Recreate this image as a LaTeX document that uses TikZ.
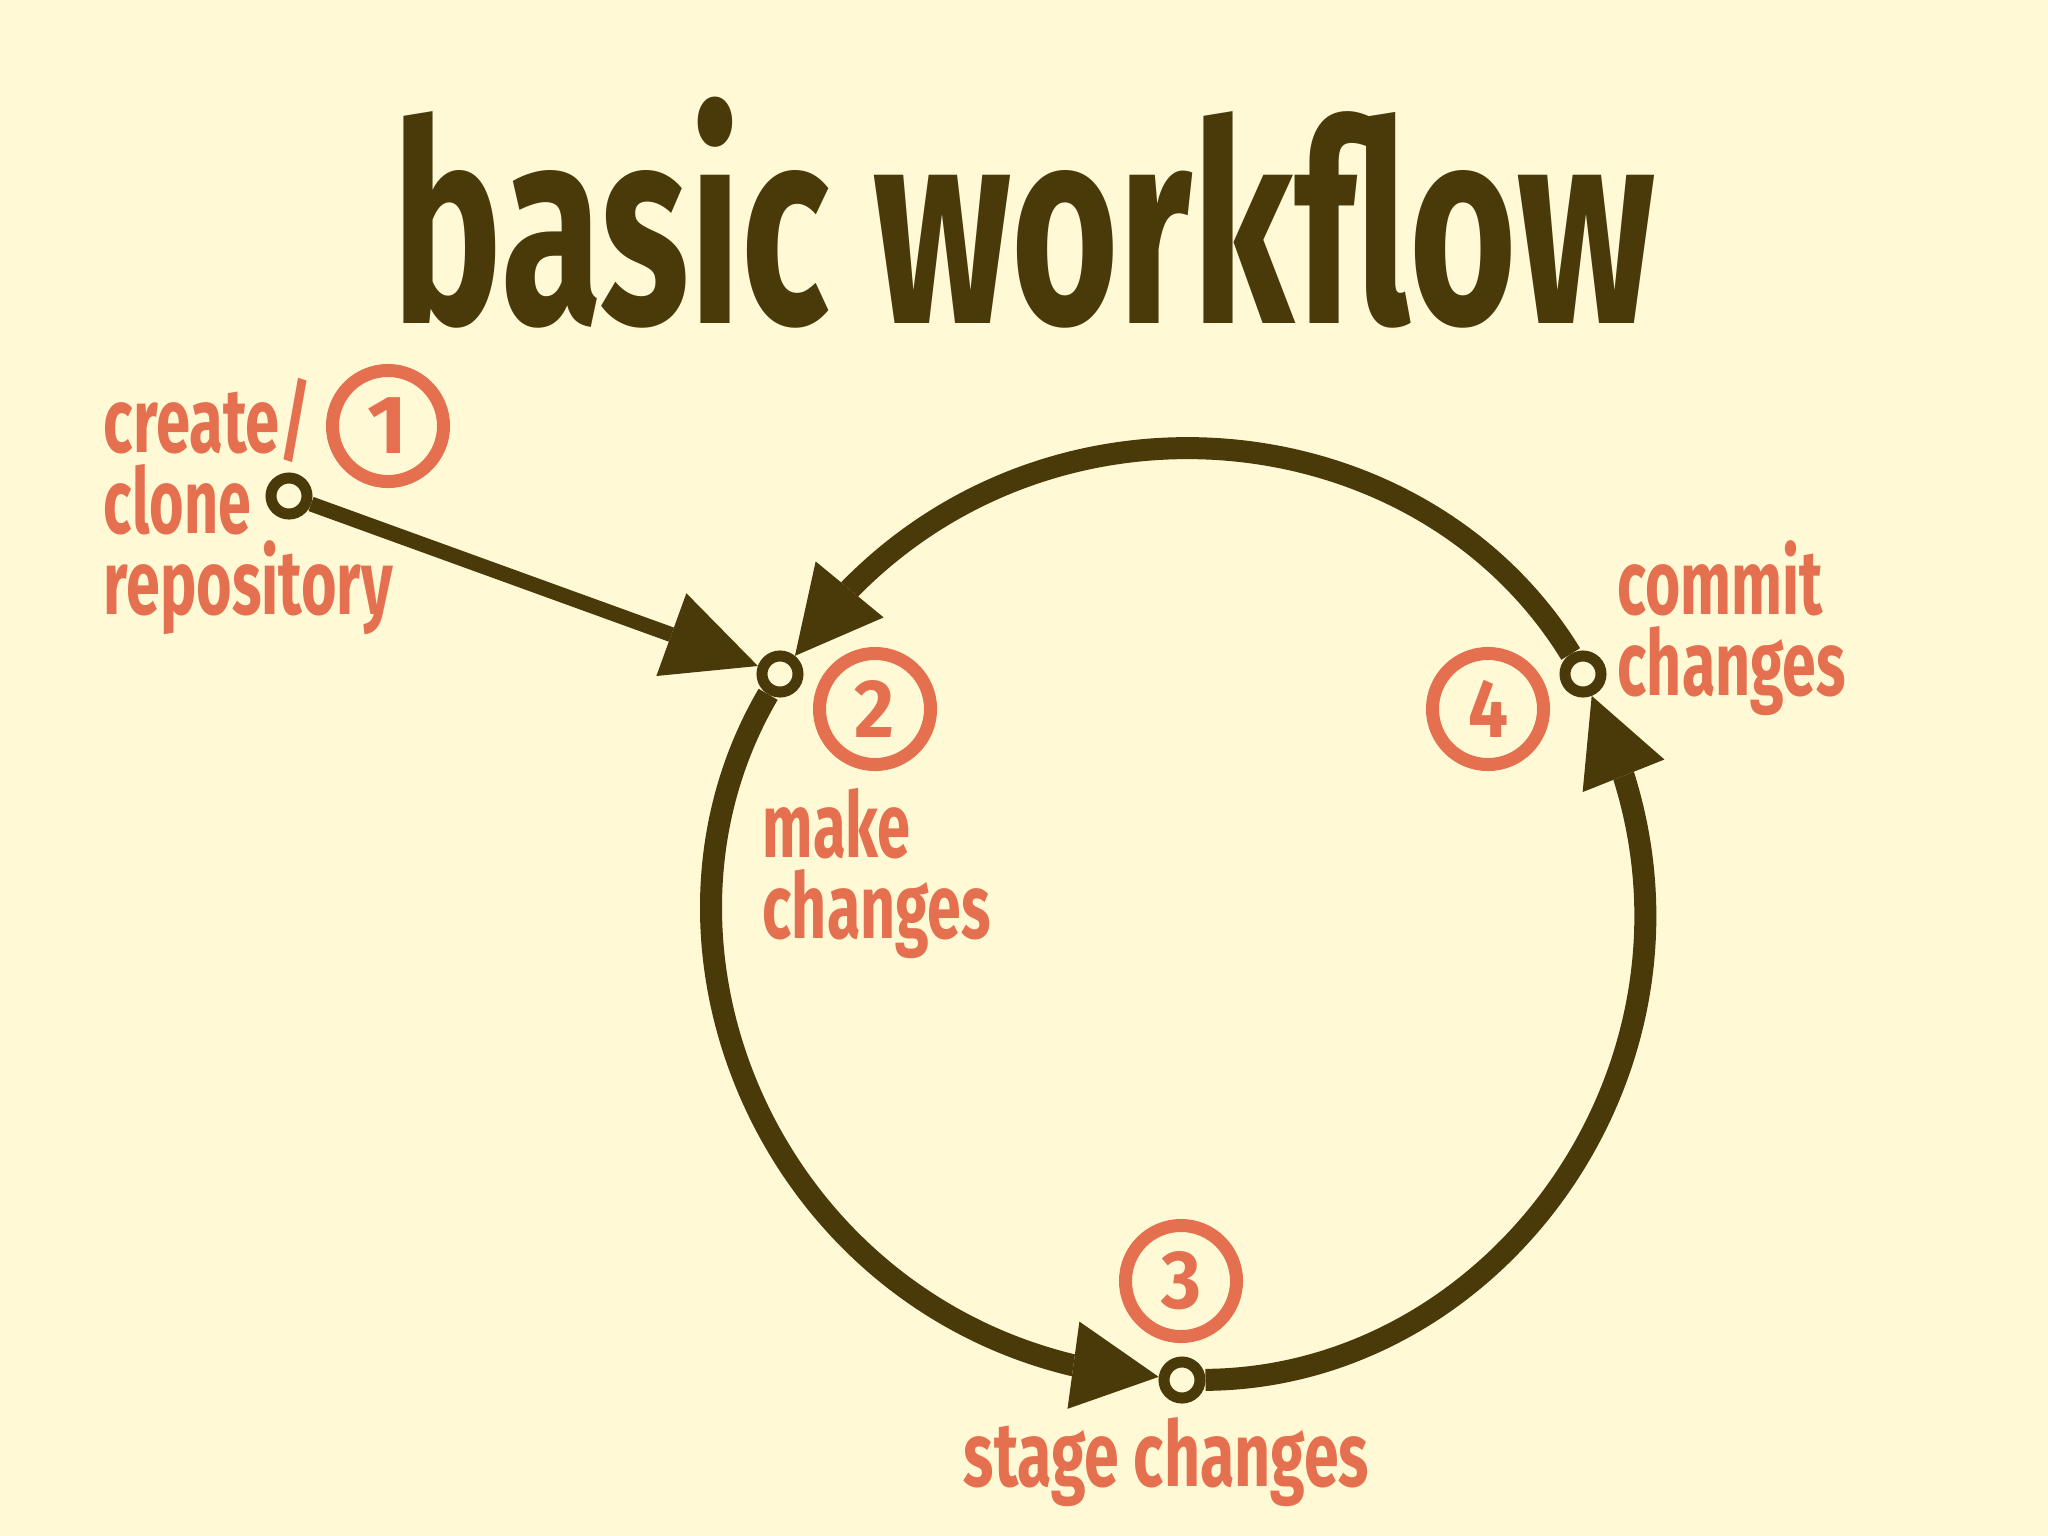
\documentclass[tikz,border=0pt]{standalone}
\usepackage{fontspec}
\usepackage{graphicx}
\setmainfont{Fira Sans}
\usetikzlibrary{arrows.meta}
\definecolor{bgc}{HTML}{FFFAD5}
\definecolor{inkc}{HTML}{4A3A0A}
\definecolor{oc}{HTML}{E47050}
\newcommand\fitw[2]{\resizebox{#1}{\height}{#2}}
\newcommand\labstack[1]{\vtop{\baselineskip=0.81cm\lineskiplimit=-1000pt\relax #1}}
\tikzset{
  port/.style={circle, draw=inkc, line width=0.11cm, fill=bgc, minimum size=0.36cm, inner sep=0pt},
  numc/.style={circle, draw=oc, line width=0.13cm, minimum size=1.11cm, inner sep=0pt, text=oc,
    font=\fontsize{23.5pt}{24pt}\selectfont\bfseries},
  lab/.style={anchor=base west, inner sep=0pt, text=oc, font=\fontsize{25.9pt}{26pt}\selectfont\bfseries},
  ttl/.style={anchor=base west, inner sep=0pt, text=inkc, font=\fontsize{79.4pt}{80pt}\selectfont\bfseries},
  flow/.style={draw=inkc, line width=0.22cm, -{Triangle[length=0.86cm,width=0.88cm,line width=0pt]}},
  feed/.style={draw=inkc, line width=0.15cm, -{Triangle[length=0.92cm,width=0.88cm,line width=0pt]}},
}
\begin{document}
\begin{tikzpicture}[x=0.01cm,y=-0.01cm]
\fill[bgc] (0,0) rectangle (2048,1536);
\useasboundingbox (0,0) rectangle (2048,1536);

% title
\node[ttl] (title) at (392,323) {\fitw{12.62cm}{basic workflow}};

% ports
\node[port] (n1) at (289,496) {};
\node[port] (n2) at (780,674) {};
\node[port] (n3) at (1182,1380) {};
\node[port] (n4) at (1583,674) {};

% numbered circles
\node[numc] (c1) at (388,426) {\fitw{0.40cm}{1}};
\node[numc] (c2) at (875,709) {\fitw{0.40cm}{2}};
\node[numc] (c3) at (1181,1281) {\fitw{0.40cm}{3}};
\node[numc] (c4) at (1488,709) {\fitw{0.40cm}{4}};

% labels
\node[lab] (l1) at (103,452) {\labstack{\hbox{\fitw{2.08cm}{create/}}\hbox{\fitw{1.47cm}{clone}}\hbox{\fitw{2.89cm}{repository}}}};
\node[lab] (l2) at (762,857) {\labstack{\hbox{\fitw{1.48cm}{make}}\hbox{\fitw{2.28cm}{changes}}}};
\node[lab] (l3) at (963,1486) {\fitw{4.05cm}{stage changes}};
\node[lab] (l4) at (1617,614) {\labstack{\hbox{\fitw{2.05cm}{commit}}\hbox{\fitw{2.28cm}{changes}}}};

% arrow-head bases on the loop
\coordinate (q23) at (1072,1365);
\coordinate (q34) at (1624,777);
\coordinate (q42) at (850,589);

% connectors
\draw[feed] (n1) -- (n2);
\draw[flow] (n2) .. controls (622,944) and (768,1291) .. (q23) -- (n3);
\draw[flow] (n3) .. controls (1493,1378) and (1717,1075) .. (q34) -- (n4);
\draw[flow] (n4) .. controls (1424,415) and (1063,372) .. (q42) -- (n2);
\end{tikzpicture}
\end{document}
